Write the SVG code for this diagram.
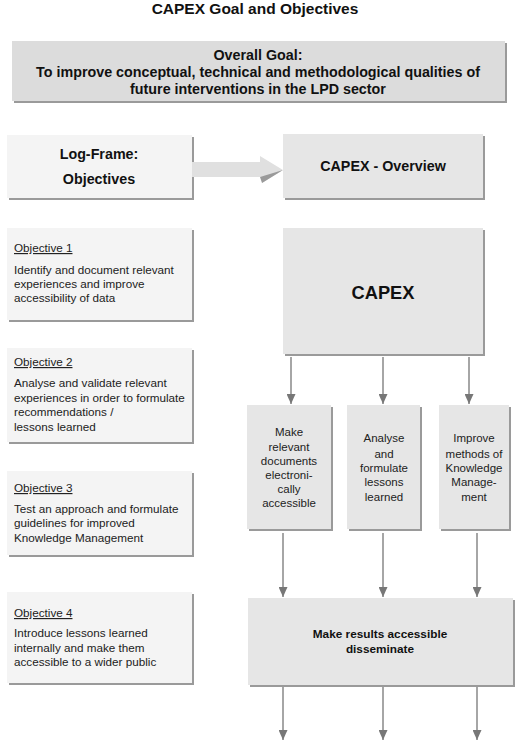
<svg xmlns="http://www.w3.org/2000/svg" width="521" height="753" viewBox="0 0 521 753">
<defs>
<style>
text{font-family:"Liberation Sans",Arial,sans-serif;fill:#111;}
.b{font-weight:bold;}
.t{font-size:11.7px;fill:#222;}
.s{font-size:11.5px;fill:#222;}
.c{text-anchor:middle;}
.sh{fill:#9a9a9a;}
.light{fill:#f4f4f4;}
.mid{fill:#e6e6e6;}
.dark{fill:#dcdcdc;}
.conn line{stroke:#888;stroke-width:1.5;}
</style>
<marker id="ah" viewBox="0 0 10 9" refX="10" refY="4.5" markerWidth="10" markerHeight="9" markerUnits="userSpaceOnUse" orient="auto">
<path d="M0,0 L10,4.5 L0,9 Z" fill="#777"/>
</marker>
</defs>
<rect width="521" height="753" fill="#fff"/>
<text x="255" y="14" class="b c" font-size="15.5">CAPEX Goal and Objectives</text>

<g id="goal">
<rect x="14" y="43" width="493" height="60" class="sh"/>
<rect x="12" y="41" width="493" height="60" class="dark"/>
<text x="258" y="60" class="b c" font-size="14.3">Overall Goal:</text>
<text x="258" y="77" class="b c" font-size="14.3">To improve conceptual, technical and methodological qualities of</text>
<text x="258" y="94" class="b c" font-size="14.3">future interventions in the LPD sector</text>
</g>

<g id="logframe">
<rect x="9" y="137" width="185" height="63" class="sh"/>
<rect x="7" y="135" width="185" height="63" class="light"/>
<text x="99" y="159" class="b c" font-size="14.3">Log-Frame:</text>
<text x="99" y="184" class="b c" font-size="14.3">Objectives</text>
</g>

<g id="overview">
<rect x="285" y="136" width="200" height="64" class="sh"/>
<rect x="283" y="134" width="200" height="64" class="mid"/>
<text x="383" y="171" class="b c" font-size="14.3">CAPEX - Overview</text>
</g>

<g id="obj1">
<rect x="9" y="230" width="185" height="92" class="sh"/>
<rect x="7" y="228" width="185" height="92" class="light"/>
<text x="14" y="252" class="t" text-decoration="underline">Objective 1</text>
<text x="14" y="274" class="t">Identify and document relevant</text>
<text x="14" y="288" class="t">experiences and improve</text>
<text x="14" y="302" class="t">accessibility of data</text>
</g>

<g id="obj2">
<rect x="9" y="350" width="185" height="94" class="sh"/>
<rect x="7" y="348" width="185" height="94" class="light"/>
<text x="14" y="366" class="t" text-decoration="underline">Objective 2</text>
<text x="14" y="387" class="t">Analyse and validate relevant</text>
<text x="14" y="402" class="t">experiences in order to formulate</text>
<text x="14" y="416" class="t">recommendations /</text>
<text x="14" y="431" class="t">lessons learned</text>
</g>

<g id="obj3">
<rect x="9" y="473" width="185" height="84" class="sh"/>
<rect x="7" y="471" width="185" height="84" class="light"/>
<text x="14" y="492" class="t" text-decoration="underline">Objective 3</text>
<text x="14" y="513" class="t">Test an approach and formulate</text>
<text x="14" y="527" class="t">guidelines for improved</text>
<text x="14" y="542" class="t">Knowledge Management</text>
</g>

<g id="obj4">
<rect x="9" y="594" width="185" height="91" class="sh"/>
<rect x="7" y="592" width="185" height="91" class="light"/>
<text x="14" y="617" class="t" text-decoration="underline">Objective 4</text>
<text x="14" y="637" class="t">Introduce lessons learned</text>
<text x="14" y="652" class="t">internally and make them</text>
<text x="14" y="666" class="t">accessible to a wider public</text>
</g>

<g id="capex">
<rect x="285" y="230" width="200" height="126" class="sh"/>
<rect x="283" y="228" width="200" height="126" class="mid"/>
<text x="383" y="299" class="b c" font-size="18.3">CAPEX</text>
</g>

<g id="box1">
<rect x="249" y="407" width="84" height="124" class="sh"/>
<rect x="247" y="405" width="84" height="124" class="mid"/>
<text x="289" y="436" class="s c">Make</text>
<text x="289" y="451" class="s c">relevant</text>
<text x="289" y="465" class="s c">documents</text>
<text x="289" y="479" class="s c">electroni-</text>
<text x="289" y="493" class="s c">cally</text>
<text x="289" y="507" class="s c">accessible</text>
</g>

<g id="box2">
<rect x="349" y="407" width="73" height="124" class="sh"/>
<rect x="347" y="405" width="73" height="124" class="mid"/>
<text x="384" y="442" class="s c">Analyse</text>
<text x="384" y="458" class="s c">and</text>
<text x="384" y="472" class="s c">formulate</text>
<text x="384" y="486" class="s c">lessons</text>
<text x="384" y="501" class="s c">learned</text>
</g>

<g id="box3">
<rect x="441" y="407" width="70" height="124" class="sh"/>
<rect x="439" y="405" width="70" height="124" class="mid"/>
<text x="474" y="442" class="s c">Improve</text>
<text x="474" y="458" class="s c">methods of</text>
<text x="474" y="472" class="s c">Knowledge</text>
<text x="474" y="486" class="s c">Manage-</text>
<text x="474" y="501" class="s c">ment</text>
</g>

<g id="results">
<rect x="250" y="600" width="265" height="87" class="sh"/>
<rect x="248" y="598" width="265" height="87" class="mid"/>
<text x="380" y="638" class="b c" font-size="11.8">Make results accessible</text>
<text x="380" y="653" class="b c" font-size="11.8">disseminate</text>
</g>

<g id="connectors" class="conn">
<path d="M192,162 L260,162 L260,156 L283,170 L262,183 L262,177 L192,177 Z" fill="#e0e0e0"/>
<path d="M260,177 L283,170 L262,183 Z" fill="#9a9a9a"/>
<line x1="291" y1="357" x2="291" y2="404" marker-end="url(#ah)"/>
<line x1="383" y1="357" x2="383" y2="404" marker-end="url(#ah)"/>
<line x1="469" y1="357" x2="469" y2="404" marker-end="url(#ah)"/>
<line x1="283" y1="533" x2="283" y2="597" marker-end="url(#ah)"/>
<line x1="383" y1="533" x2="383" y2="597" marker-end="url(#ah)"/>
<line x1="477" y1="533" x2="477" y2="597" marker-end="url(#ah)"/>
<line x1="283" y1="687" x2="283" y2="740" marker-end="url(#ah)"/>
<line x1="383" y1="687" x2="383" y2="740" marker-end="url(#ah)"/>
<line x1="477" y1="687" x2="477" y2="740" marker-end="url(#ah)"/>
</g>
</svg>
